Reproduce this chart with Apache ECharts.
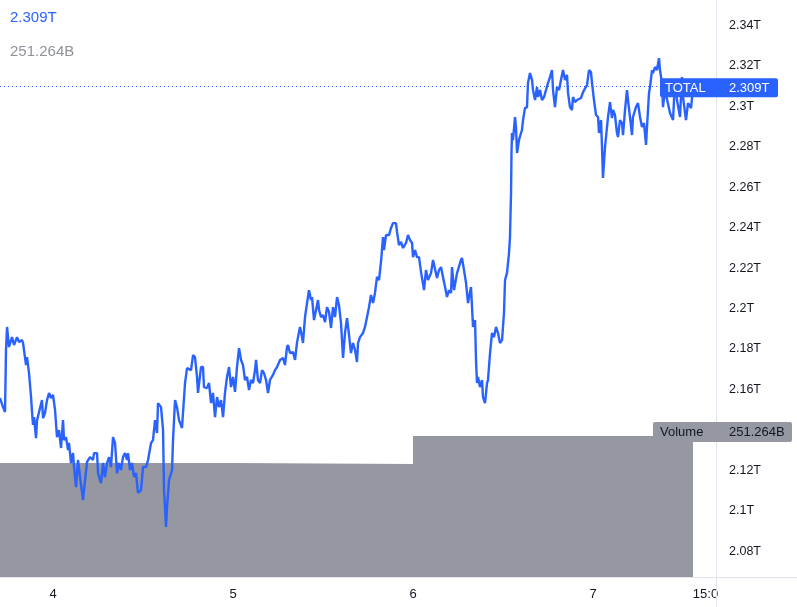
<!DOCTYPE html>
<html><head><meta charset="utf-8">
<script src="https://cdn.jsdelivr.net/npm/echarts@6/dist/echarts.min.js"></script>
<style>html,body{margin:0;padding:0;background:#fff}#c{width:797px;height:607px}</style>
</head><body><div id="c"></div>
<script>
// hours since day "4" 00:00
const hours = [
-7.07,-6.67,-6.4,-6.27,-6.13,-5.87,-5.47,-5.2,-4.8,-4.53,-4.13,-4.0,-3.6,-3.47,-3.2,-2.93,-2.8,-2.67,-2.53,-2.27,
-2.13,-1.73,-1.47,-1.33,-1.07,-0.8,-0.53,-0.27,0,0.27,0.53,0.8,1.07,1.33,1.47,1.73,2.0,2.13,2.4,2.67,
2.8,3.07,3.33,3.6,4.0,4.27,4.53,4.93,5.33,5.47,5.87,6.0,6.4,6.67,6.93,7.2,7.47,7.73,8.0,8.27,
8.53,8.8,9.07,9.33,9.6,9.87,10.0,10.27,10.53,10.8,11.07,11.33,11.73,
12.0,12.4,12.67,13.07,13.33,13.6,13.87,14.0,14.4,14.67,14.8,15.07,15.2,15.47,15.87,16.0,16.27,16.53,16.8,17.2,
17.33,17.6,17.87,18.13,18.4,18.67,18.93,19.2,19.33,19.73,20.0,20.13,20.53,20.8,21.07,21.33,21.6,21.87,22.13,22.4,
22.67,22.93,23.2,23.47,23.73,24.0,24.27,24.53,24.8,25.07,25.33,25.6,25.87,26.13,26.4,26.67,26.93,27.07,27.33,27.6,
27.87,28.13,28.4,28.67,28.93,29.33,29.6,29.87,30.27,30.67,30.93,
31.2,31.33,31.6,32.0,32.27,32.53,32.67,32.93,33.2,33.33,33.6,33.87,34.13,34.4,34.53,34.8,35.07,35.33,35.47,35.73,
36.0,36.27,36.53,36.8,37.07,37.33,37.6,37.87,38.13,38.4,38.67,38.93,39.2,39.47,39.73,40.0,40.27,40.53,40.67,40.93,
41.33,41.6,41.87,42.13,42.4,42.67,42.93,43.2,43.47,43.73,44.0,44.13,44.4,44.8,45.07,45.33,45.73,45.87,46.13,46.4,
46.67,47.07,47.33,47.6,47.87,48.0,48.27,48.53,48.8,
49.07,49.47,49.73,50.0,50.4,50.67,50.93,51.2,51.47,51.73,52.0,52.27,52.53,52.8,53.07,53.2,53.47,53.87,54.13,54.4,
54.53,54.8,55.07,55.33,55.73,55.87,56.0,56.27,56.4,56.53,56.67,56.93,57.2,57.33,57.6,57.87,58.0,58.27,58.53,58.8,
59.07,59.33,59.6,59.87,60.13,60.27,60.53,60.8,60.93,61.07,61.13,61.2,61.33,61.6,61.73,61.87,62.13,62.4,62.53,62.67,
62.93,63.2,63.33,63.6,63.87,64.0,64.27,64.53,64.67,64.93,65.2,65.47,65.73,66.0,66.27,66.53,66.67,66.93,67.2,67.47,
67.73,68.0,
68.27,68.53,68.67,68.93,69.2,69.33,69.6,69.87,70.13,70.4,70.67,70.93,71.2,71.47,71.73,71.87,72.13,72.4,72.67,72.8,
73.07,73.2,73.33,73.6,73.87,74.0,74.27,74.53,74.67,74.93,75.2,75.33,75.6,75.87,76.0,76.27,76.53,76.67,76.93,77.2,
77.33,77.73,78.0,78.27,78.53,78.8,79.07,79.2,79.47,79.6,79.87,80.0,80.27,80.53,80.8,80.93,81.2,81.33,81.6,82.27,
82.67,82.93,83.2,83.6,83.87,84.0,84.4,84.67,85.07,85.33
];
// TOTAL market cap, trillions
const total = [
2.1558,2.1513,2.1489,2.1795,2.1909,2.1810,2.1859,2.1820,2.1859,2.1835,2.1844,2.1830,2.1721,2.1760,2.1681,2.1563,2.1489,2.1425,2.1464,2.1360,
2.1449,2.1509,2.1548,2.1459,2.1484,2.1548,2.1583,2.1558,2.1573,2.1499,2.1365,2.1400,2.1311,2.1449,2.1350,2.1365,2.1301,2.1336,2.1237,2.1286,
2.1217,2.1118,2.1252,2.1168,2.1054,2.1153,2.1242,2.1266,2.1252,2.1286,2.1286,2.1187,2.1138,2.1237,2.1168,2.1237,2.1266,2.1217,2.1365,2.1336,
2.1187,2.1237,2.1202,2.1266,2.1286,2.1252,2.1286,2.1202,2.1237,2.1168,2.1187,2.1089,2.1103,
2.1217,2.1217,2.1252,2.1336,2.1350,2.1449,2.1385,2.1533,2.1513,2.1400,2.1103,2.0921,2.1019,2.1153,2.1202,2.1350,2.1548,2.1513,2.1449,2.1410,
2.1484,2.1632,2.1706,2.1711,2.1696,2.1770,2.1760,2.1662,2.1583,2.1711,2.1711,2.1612,2.1607,2.1632,2.1533,2.1583,2.1464,2.1563,2.1513,2.1548,
2.1464,2.1583,2.1662,2.1711,2.1612,2.1662,2.1588,2.1711,2.1805,2.1746,2.1721,2.1647,2.1662,2.1597,2.1647,2.1632,2.1696,2.1746,2.1647,2.1632,
2.1696,2.1681,2.1647,2.1583,2.1647,2.1672,2.1696,2.1711,2.1746,2.1756,2.1721,
2.1810,2.1820,2.1780,2.1785,2.1746,2.1830,2.1859,2.1909,2.1859,2.1830,2.1958,2.2027,2.2091,2.2042,2.2057,2.1943,2.1993,2.2042,2.1993,2.1958,
2.1968,2.1933,2.2007,2.1983,2.1904,2.2007,2.1958,2.2057,2.2017,2.1928,2.1756,2.1879,2.1953,2.1869,2.1780,2.1830,2.1795,2.1736,2.1830,2.1859,
2.1879,2.1909,2.1958,2.2007,2.2067,2.2027,2.2077,2.2156,2.2141,2.2230,2.2353,2.2289,2.2363,2.2363,2.2398,2.2422,2.2422,2.2378,2.2314,2.2329,
2.2299,2.2324,2.2363,2.2338,2.2324,2.2254,2.2289,2.2254,2.2254,
2.2180,2.2091,2.2190,2.2141,2.2175,2.2240,2.2240,2.2151,2.2190,2.2205,2.2156,2.2106,2.2057,2.2091,2.2077,2.2205,2.2091,2.2175,2.2180,2.2240,
2.2250,2.2190,2.2126,2.2027,2.2106,2.2007,2.1909,2.1943,2.1746,2.1632,2.1662,2.1612,2.1647,2.1563,2.1533,2.1632,2.1647,2.1780,2.1879,2.1859,
2.1909,2.1879,2.1830,2.1844,2.1978,2.2141,2.2175,2.2274,2.2353,2.2571,2.2768,2.2867,2.2832,2.2946,2.2897,2.2768,2.2832,2.2867,2.2882,2.2931,
2.2990,2.2995,2.3114,2.3163,2.3129,2.3079,2.3030,2.3094,2.3045,2.3079,2.3030,2.3045,2.3079,2.3114,2.3144,2.3178,2.3079,2.2995,2.3094,2.3079,
2.3129,2.3178,
2.3129,2.3154,2.3065,2.2995,2.2981,2.3045,2.3020,2.3030,2.3035,2.3040,2.3069,2.3065,2.3104,2.3178,2.3168,2.3114,2.3030,2.2956,2.2946,2.2867,
2.2931,2.2798,2.2645,2.2798,2.2897,2.2946,2.3020,2.2941,2.2981,2.2956,2.2867,2.2847,2.2931,2.2916,2.2857,2.2981,2.3079,2.3030,2.2946,2.2857,
2.2946,2.2995,2.3015,2.2946,2.2897,2.2916,2.2808,2.2897,2.3065,2.3094,2.3178,2.3163,2.3193,2.3178,2.3237,2.3178,2.3114,2.2995,2.3079,2.2966,
2.2931,2.3129,2.3030,2.2946,2.3144,2.3045,2.2931,2.3015,2.2990,2.3090
];
// daily volume blocks (billions), start hour of each block
const volumeStarts = [-7.07, 24, 48];
const volumeValues = [203.1, 201.4, 251.264];
const lastHour = 85.33;
const xTickValues = [0, 24, 48, 72, 87];
const xTickLabels = ['4', '5', '6', '7', '15:0'];
const yTickValues = [2.08, 2.1, 2.12, 2.16, 2.18, 2.2, 2.22, 2.24, 2.26, 2.28, 2.3, 2.32, 2.34];

const FONT = '"Liberation Sans", Arial, sans-serif';
const TXT = '#131722';
const BLUE = '#2962ff';
const GREY = '#9598a1';
const AXIS = '#e0e3eb';

const chart = echarts.init(document.getElementById('c'), null, {renderer: 'canvas'});
const n = Math.min(hours.length, total.length);
const priceData = [];
for (let i = 0; i < n; i++) priceData.push([hours[i], total[i]]);
const volData = volumeStarts.map((h, i) => [h, volumeValues[i]])
  .concat([[lastHour, volumeValues[volumeValues.length - 1]]]);
const lastVal = total[n - 1];
const lastVol = volumeValues[volumeValues.length - 1];

chart.setOption({
  animation: false,
  grid: {left: 0, right: 81, top: 0, bottom: 30},
  xAxis: {
    type: 'value', min: -7.07, max: 88.4,
    axisLine: {show: true, onZero: false, lineStyle: {color: AXIS, width: 1}},
    axisTick: {show: false}, splitLine: {show: false},
    axisLabel: {
      customValues: xTickValues,
      formatter: v => { const i = xTickValues.indexOf(v); return i >= 0 ? xTickLabels[i] : ''; },
      color: TXT, fontSize: 13, fontFamily: FONT, margin: 11
    }
  },
  yAxis: [{
    type: 'value', position: 'right', min: 2.0674, max: 2.3524, scale: true,
    axisLine: {show: true, onZero: false, lineStyle: {color: AXIS, width: 1}},
    axisTick: {show: false}, splitLine: {show: false},
    axisLabel: {
      customValues: yTickValues,
      formatter: v => (+v.toFixed(2)) + 'T',
      color: TXT, fontSize: 12.5, fontFamily: FONT, margin: 13
    }
  }, {
    type: 'value', min: 0, max: 1028.2, show: false
  }],
  series: [{
    type: 'line', yAxisIndex: 1, data: volData, step: 'end', symbol: 'none',
    lineStyle: {width: 0}, areaStyle: {color: GREY, opacity: 1}, z: 1, silent: true
  }, {
    type: 'line', yAxisIndex: 0, data: priceData, symbol: 'none', showSymbol: false,
    lineStyle: {color: BLUE, width: 2.4}, z: 3, silent: true,
    markLine: {
      silent: true, symbol: 'none', label: {show: false},
      lineStyle: {color: BLUE, type: [1, 3], width: 1},
      data: [{yAxis: lastVal}]
    }
  }]
});

const gx = chart.convertToPixel({xAxisIndex: 0}, 88.4);
const gyBottom = chart.convertToPixel({yAxisIndex: 0}, 2.0674);
const yP = chart.convertToPixel({yAxisIndex: 0}, lastVal);
const yV = chart.convertToPixel({yAxisIndex: 1}, lastVol);
const W = 797, H = 607;

function txt(t, x, y, fill, size) {
  return {type: 'text', z: 101, style: {text: t, x: x, y: y, fill: fill, font: size + 'px ' + FONT, textVerticalAlign: 'middle', textAlign: 'left'}};
}

chart.setOption({
  graphic: [
    {type: 'line', z: 50, shape: {x1: gx, y1: gyBottom + 0.5, x2: W, y2: gyBottom + 0.5}, style: {stroke: AXIS, lineWidth: 1}},
    {type: 'line', z: 50, shape: {x1: gx + 0.5, y1: 0, x2: gx + 0.5, y2: H}, style: {stroke: AXIS, lineWidth: 1}},
    // legend values
    txt(lastVal.toFixed(3) + 'T', 10, 18, BLUE, 15),
    txt(lastVol.toFixed(3) + 'B', 10, 52, '#8f929b', 15),
    // TOTAL price label
    {type: 'rect', z: 100, shape: {x: gx - 56, y: yP - 9.5, width: 118, height: 19, r: 2}, style: {fill: BLUE}},
    txt('TOTAL', gx - 51, yP + 0.5, '#ffffff', 13),
    txt(lastVal.toFixed(3) + 'T', gx + 13, yP + 0.5, '#ffffff', 13),
    // Volume label
    {type: 'rect', z: 100, shape: {x: gx - 63, y: yV - 14, width: 139, height: 20, r: 2}, style: {fill: GREY}},
    txt('Volume', gx - 56, yV - 4, TXT, 13),
    txt(lastVol.toFixed(3) + 'B', gx + 13, yV - 4, TXT, 13)
  ]
});
</script>
</body></html>
